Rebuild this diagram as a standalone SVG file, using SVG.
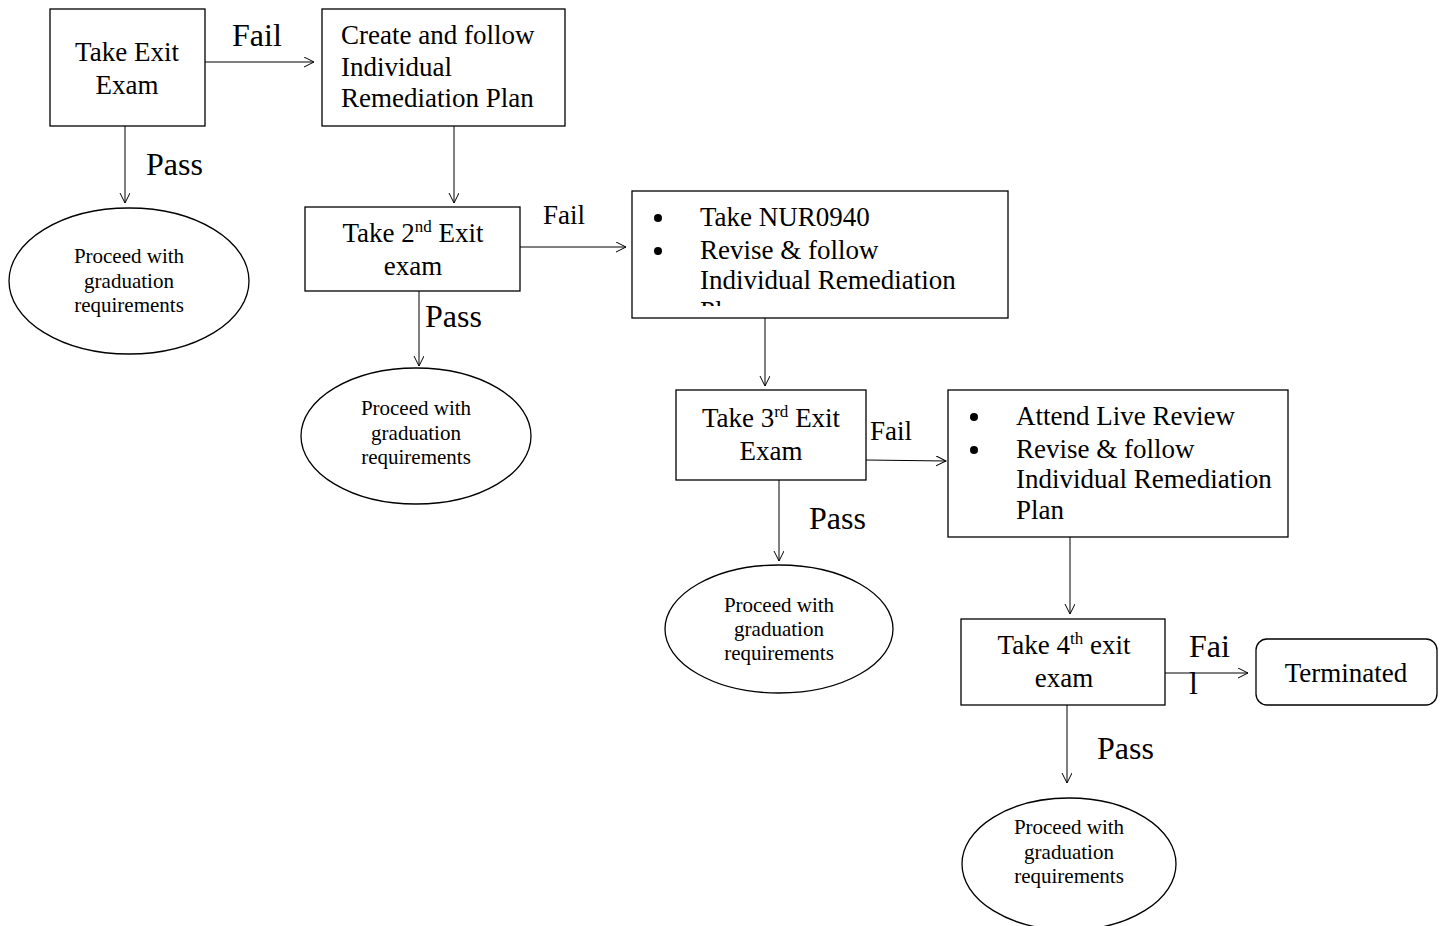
<svg xmlns="http://www.w3.org/2000/svg" width="1444" height="926" viewBox="0 0 1444 926">
<style>
.b{fill:#fff;stroke:#000;stroke-width:1.3}
.t{font-family:"Liberation Serif","Times New Roman",serif;font-size:27px;fill:#000}
.c{text-anchor:middle}
.s{font-family:"Liberation Serif","Times New Roman",serif;font-size:21px;fill:#000;text-anchor:middle}
.l{font-family:"Liberation Serif","Times New Roman",serif;font-size:32px;fill:#000}
.sup{font-size:17px}
.ln{stroke:#000;stroke-width:1;fill:none;marker-end:url(#a)}
</style>
<defs>
<marker id="a" markerWidth="12" markerHeight="12" refX="10" refY="5" orient="auto" markerUnits="userSpaceOnUse">
<path d="M0,0 L10,5 L0,10" fill="none" stroke="#000" stroke-width="1"/>
</marker>
<clipPath id="cp4"><rect x="632" y="191" width="376" height="115"/></clipPath>
</defs>
<rect width="1444" height="926" fill="#fff"/>
<g id="connectors">
<line class="ln" x1="205" y1="62" x2="314" y2="62"/>
<line class="ln" x1="125" y1="126" x2="125" y2="203"/>
<line class="ln" x1="454" y1="126" x2="454" y2="203"/>
<line class="ln" x1="520" y1="247" x2="626" y2="247"/>
<line class="ln" x1="419" y1="291" x2="419" y2="366"/>
<line class="ln" x1="765" y1="318" x2="765" y2="386"/>
<line class="ln" x1="866" y1="460" x2="946" y2="461"/>
<line class="ln" x1="779" y1="480" x2="779" y2="561"/>
<line class="ln" x1="1070" y1="537" x2="1070" y2="614"/>
<line class="ln" x1="1165" y1="673" x2="1248" y2="673"/>
<line class="ln" x1="1067" y1="705" x2="1067" y2="783"/>
<text class="l" x="232" y="46">Fail</text>
<text class="l" x="146" y="175">Pass</text>
<text class="t" x="543" y="224">Fail</text>
<text class="l" x="425" y="327">Pass</text>
<text class="t" x="870" y="440">Fail</text>
<text class="l" x="809" y="529">Pass</text>
<text class="l" x="1189" y="657">Fai</text>
<text class="l" x="1189" y="694">l</text>
<text class="l" x="1097" y="759">Pass</text>
</g>
<g id="n1">
<rect class="b" x="50" y="9" width="155" height="117"/>
<text class="t c" x="127" y="61">Take Exit</text>
<text class="t c" x="127" y="94">Exam</text>
</g>
<g id="n2">
<rect class="b" x="322" y="9" width="243" height="117"/>
<text class="t" x="341" y="44">Create and follow</text>
<text class="t" x="341" y="76">Individual</text>
<text class="t" x="341" y="107">Remediation Plan</text>
</g>
<g id="e1">
<ellipse class="b" cx="129" cy="281" rx="120" ry="73"/>
<text class="s" x="129" y="263">Proceed with</text>
<text class="s" x="129" y="288">graduation</text>
<text class="s" x="129" y="312">requirements</text>
</g>
<g id="n3">
<rect class="b" x="305" y="207" width="215" height="84"/>
<text class="t c" x="413" y="242">Take 2<tspan class="sup" dy="-10">nd</tspan><tspan dy="10"> Exit</tspan></text>
<text class="t c" x="413" y="275">exam</text>
</g>
<g id="n4">
<rect class="b" x="632" y="191" width="376" height="127"/>
<g clip-path="url(#cp4)">
<circle cx="658" cy="218" r="4"/>
<circle cx="658" cy="251" r="4"/>
<text class="t" x="700" y="226">Take NUR0940</text>
<text class="t" x="700" y="259">Revise &amp; follow</text>
<text class="t" x="700" y="289">Individual Remediation</text>
<text class="t" x="700" y="320">Plan</text>
</g>
</g>
<g id="e2">
<ellipse class="b" cx="416" cy="436" rx="115" ry="68"/>
<text class="s" x="416" y="415">Proceed with</text>
<text class="s" x="416" y="440">graduation</text>
<text class="s" x="416" y="464">requirements</text>
</g>
<g id="n5">
<rect class="b" x="676" y="390" width="190" height="90"/>
<text class="t c" x="771" y="427">Take 3<tspan class="sup" dy="-10">rd</tspan><tspan dy="10"> Exit</tspan></text>
<text class="t c" x="771" y="460">Exam</text>
</g>
<g id="n6">
<rect class="b" x="948" y="390" width="340" height="147"/>
<circle cx="974" cy="417" r="4"/>
<circle cx="974" cy="450" r="4"/>
<text class="t" x="1016" y="425">Attend Live Review</text>
<text class="t" x="1016" y="458">Revise &amp; follow</text>
<text class="t" x="1016" y="488">Individual Remediation</text>
<text class="t" x="1016" y="519">Plan</text>
</g>
<g id="e3">
<ellipse class="b" cx="779" cy="629" rx="114" ry="64"/>
<text class="s" x="779" y="612">Proceed with</text>
<text class="s" x="779" y="636">graduation</text>
<text class="s" x="779" y="660">requirements</text>
</g>
<g id="n7">
<rect class="b" x="961" y="619" width="204" height="86"/>
<text class="t c" x="1064" y="654">Take 4<tspan class="sup" dy="-10">th</tspan><tspan dy="10"> exit</tspan></text>
<text class="t c" x="1064" y="687">exam</text>
</g>
<g id="n8">
<rect class="b" x="1256" y="639" width="181" height="66" rx="11"/>
<text class="t c" x="1346" y="682">Terminated</text>
</g>
<g id="e4">
<ellipse class="b" cx="1069" cy="864" rx="107" ry="66"/>
<text class="s" x="1069" y="834">Proceed with</text>
<text class="s" x="1069" y="859">graduation</text>
<text class="s" x="1069" y="883">requirements</text>
</g>
</svg>
